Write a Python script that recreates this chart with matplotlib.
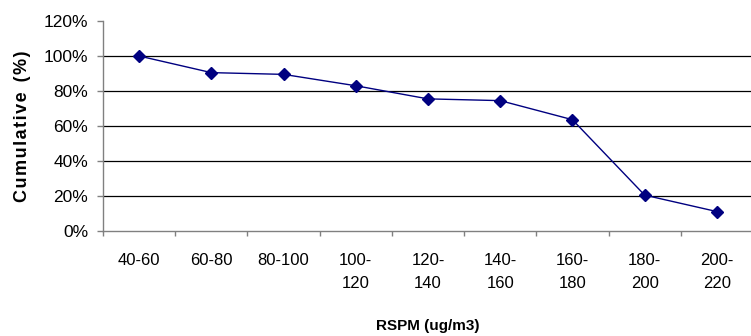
import matplotlib.pyplot as plt
from matplotlib.ticker import FixedLocator, PercentFormatter

# RSPM ranges and cumulative share
categories = ['40-60', '60-80', '80-100', '100-\n120', '120-\n140', '140-\n160',
              '160-\n180', '180-\n200', '200-\n220']
cumulative = [100, 90.5, 89.5, 83, 75.5, 74.5, 63.6, 20.5, 11.1]

plt.rcParams['font.family'] = ['Liberation Sans', 'DejaVu Sans']

fig = plt.figure(figsize=(7.51, 3.36), dpi=100)
ax = fig.add_axes([103 / 751, 1 - 231 / 336, 650 / 751, 210 / 336])

x = list(range(len(categories)))
ax.plot(x, cumulative, color='#000080', linewidth=1, marker='D',
        markersize=6, markerfacecolor='#000080', markeredgecolor='#000080')

ax.set_xlim(-0.5, len(categories) - 0.5)
ax.set_ylim(0, 120)

# gridlines
for v in range(20, 120, 20):
    ax.axhline(v, color='black', linewidth=0.9, zorder=0)

ax.yaxis.set_major_locator(FixedLocator(range(0, 121, 20)))
ax.yaxis.set_major_formatter(PercentFormatter(decimals=0))

# ticks sit on category boundaries, labels at centres
ax.xaxis.set_major_locator(FixedLocator([i - 0.5 for i in range(len(categories))]))
ax.xaxis.set_major_formatter(plt.NullFormatter())
ax.set_xticks(x, minor=True)
ax.set_xticklabels(categories, minor=True, fontsize=12, linespacing=1.62)
ax.tick_params(axis='x', which='minor', length=0, pad=16)
ax.tick_params(axis='x', which='major', length=3.6, width=1, color='#808080',
               direction='out')
ax.tick_params(axis='y', length=4.3, width=1, color='#808080', direction='out',
               labelsize=12.5, pad=6.5)

for s in ['top', 'right']:
    ax.spines[s].set_visible(False)
for s in ['left', 'bottom']:
    ax.spines[s].set_color('#808080')
    ax.spines[s].set_linewidth(1)

# Excel-style letter spacing on the y title
ylab = '\u200a'.join('Cumulative') + '  ' + '\u200a'.join('(%)')
ax.set_ylabel(ylab, fontweight='bold', fontsize=13)
ax.yaxis.set_label_coords(-(103 - 31) / 650, 0.5)
ax.set_xlabel('RSPM (ug/m3)', fontweight='bold', fontsize=11)
ax.xaxis.set_label_coords(0.5, -(319 - 231) / 210)

fig.savefig('out.png', dpi=100)
